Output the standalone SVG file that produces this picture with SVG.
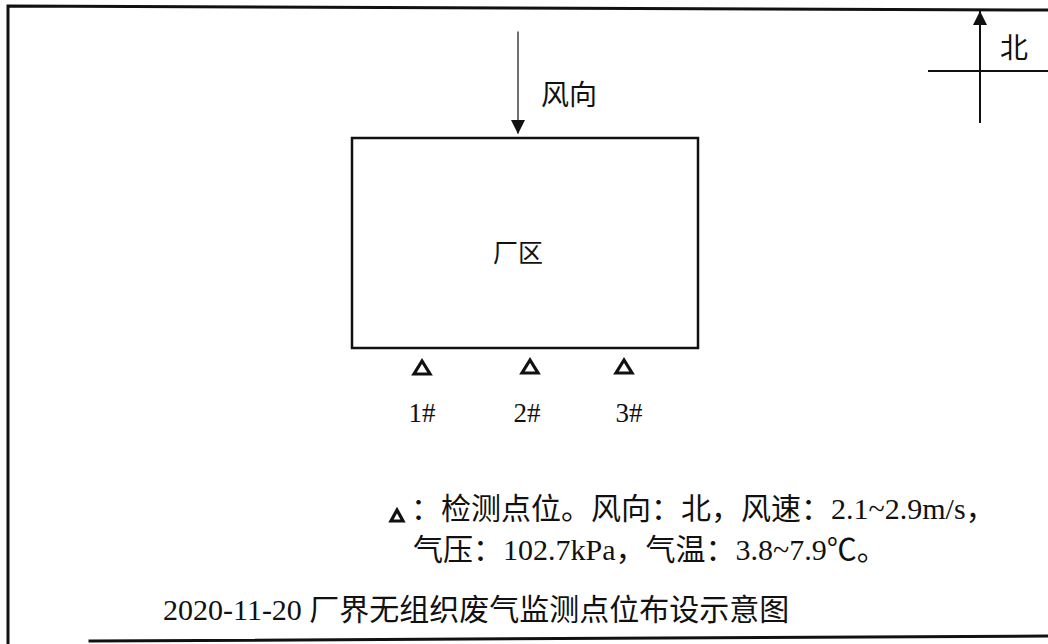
<svg xmlns="http://www.w3.org/2000/svg" width="1048" height="644" viewBox="0 0 1048 644">
<style>
.ln{stroke:#111;fill:none;stroke-linecap:square}
.t{font-family:"Liberation Serif","Noto Sans CJK SC",serif;fill:#111}
.tri{fill:none;stroke:#111;stroke-width:3.2;stroke-linejoin:miter}
</style>
<defs>
<marker id="ah" viewBox="0 0 14 14" refX="13" refY="7" markerWidth="14" markerHeight="14" markerUnits="userSpaceOnUse" orient="auto">
<path d="M0,0 L14,7 L0,14 Z" fill="#111"/>
</marker>
</defs>
<rect width="1048" height="644" fill="#fff"/>
<g id="frame">
<polyline class="ln" stroke-width="3" points="1048,10 8,6 8,644"/>
<line class="ln" stroke-width="3" x1="90" y1="641" x2="1048" y2="636"/>
</g>
<g id="connectors">
<line class="ln" stroke-width="1.2" x1="518" y1="32" x2="518" y2="133" marker-end="url(#ah)"/>
<line class="ln" stroke-width="2" x1="980" y1="122" x2="980" y2="12" marker-end="url(#ah)"/>
<line class="ln" stroke-width="2" x1="929" y1="71" x2="1048" y2="71"/>
</g>
<g id="north-label"><text class="t" x="1000" y="58" font-size="28">北</text></g>
<g id="wind-label"><text class="t" x="541" y="105" font-size="28">风向</text></g>
<g id="plant">
<rect class="ln" stroke-width="2.5" x="352" y="138" width="346" height="210"/>
<text class="t" x="518" y="262" font-size="25" text-anchor="middle">厂区</text>
</g>
<g id="p1">
<polygon class="tri" points="422,361 414,374 430,374"/>
<text class="t" x="422" y="422" font-size="27" text-anchor="middle">1#</text>
</g>
<g id="p2">
<polygon class="tri" points="530,360 522,373 538,373"/>
<text class="t" x="527" y="422" font-size="27" text-anchor="middle">2#</text>
</g>
<g id="p3">
<polygon class="tri" points="624,360 616,373 632,373"/>
<text class="t" x="629" y="422" font-size="27" text-anchor="middle">3#</text>
</g>
<g id="legend">
<polygon class="tri" stroke-width="2.8" points="397,510 391,521 403,521"/>
<text class="t" x="411" y="519" font-size="30">：检测点位。风向：北，风速：2.1~2.9m/s，</text>
<text class="t" x="413" y="560" font-size="30">气压：102.7kPa，气温：3.8~7.9℃。</text>
</g>
<g id="title">
<text class="t" x="163" y="620" font-size="30">2020-11-20 厂界无组织废气监测点位布设示意图</text>
</g>
</svg>
